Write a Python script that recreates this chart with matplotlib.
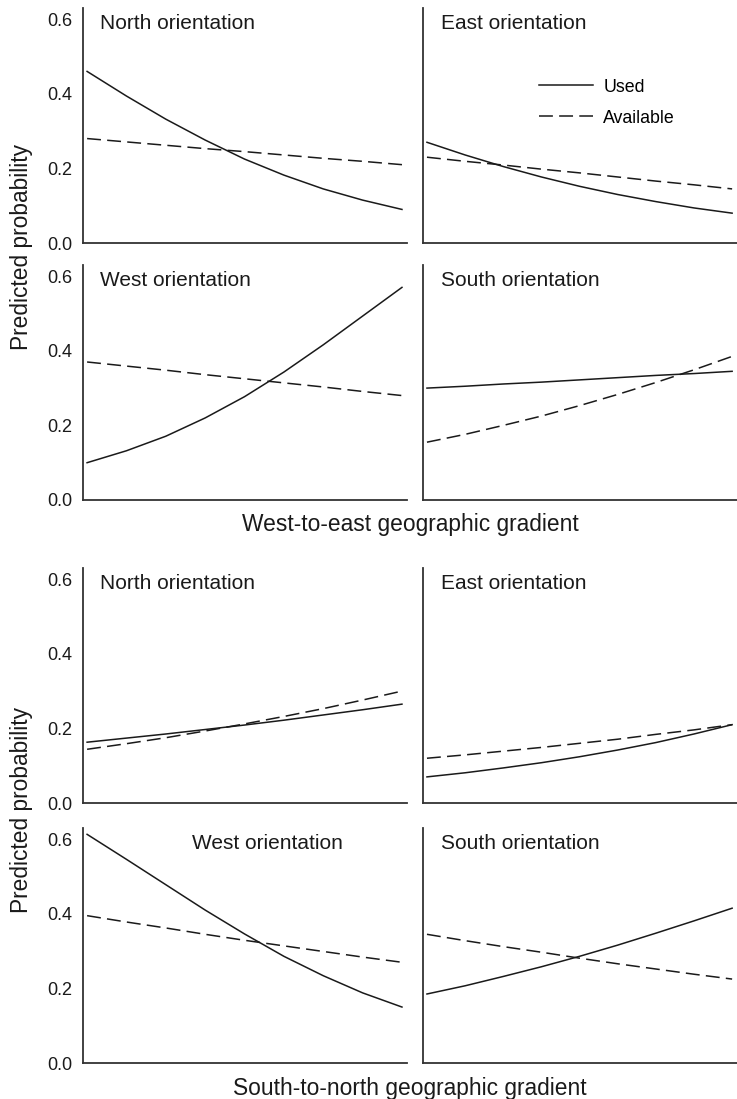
import numpy as np
import matplotlib.pyplot as plt

plt.rcParams['font.family'] = ['Liberation Sans', 'DejaVu Sans']
plt.rcParams['lines.scale_dashes'] = False

# position along each geographic gradient (scaled 0-1)
grad = [0, 0.125, 0.25, 0.375, 0.5, 0.625, 0.75, 0.875, 1]

# west-to-east gradient
we_north_used = [0.460, 0.394, 0.332, 0.276, 0.225, 0.182, 0.145, 0.115, 0.090]
we_north_avail = [0.280, 0.271, 0.262, 0.253, 0.245, 0.236, 0.227, 0.219, 0.210]
we_east_used = [0.270, 0.236, 0.205, 0.177, 0.152, 0.130, 0.111, 0.094, 0.080]
we_east_avail = [0.230, 0.219, 0.209, 0.198, 0.188, 0.177, 0.166, 0.156, 0.145]
we_west_used = [0.100, 0.132, 0.171, 0.220, 0.277, 0.343, 0.416, 0.493, 0.570]
we_west_avail = [0.370, 0.359, 0.348, 0.336, 0.325, 0.314, 0.303, 0.291, 0.280]
we_south_used = [0.300, 0.305, 0.311, 0.316, 0.322, 0.328, 0.334, 0.339, 0.345]
we_south_avail = [0.155, 0.176, 0.200, 0.225, 0.253, 0.283, 0.315, 0.349, 0.385]

# south-to-north gradient
sn_north_used = [0.163, 0.174, 0.185, 0.197, 0.209, 0.222, 0.236, 0.250, 0.265]
sn_north_avail = [0.144, 0.159, 0.175, 0.193, 0.212, 0.232, 0.253, 0.276, 0.300]
sn_east_used = [0.070, 0.081, 0.094, 0.108, 0.124, 0.142, 0.162, 0.185, 0.210]
sn_east_avail = [0.120, 0.129, 0.139, 0.149, 0.160, 0.171, 0.184, 0.196, 0.210]
sn_west_used = [0.613, 0.546, 0.478, 0.410, 0.346, 0.286, 0.234, 0.188, 0.150]
sn_west_avail = [0.395, 0.378, 0.362, 0.345, 0.329, 0.314, 0.299, 0.284, 0.270]
sn_south_used = [0.185, 0.207, 0.232, 0.258, 0.286, 0.316, 0.348, 0.381, 0.415]
sn_south_avail = [0.345, 0.328, 0.312, 0.297, 0.281, 0.266, 0.252, 0.238, 0.225]

yticks = [0.0, 0.2, 0.4, 0.6]

W, H = 737, 1099
fig = plt.figure(figsize=(W / 100, H / 100), dpi=100)

# panel boxes in pixels: left, top, right, bottom
cols = [(83, 407), (423, 737)]
rows = [(8, 243), (265, 500), (568, 803), (828, 1063)]

panels = [
    (0, 0, 'North orientation', we_north_used, we_north_avail, 17),
    (0, 1, 'East orientation', we_east_used, we_east_avail, 18),
    (1, 0, 'West orientation', we_west_used, we_west_avail, 17),
    (1, 1, 'South orientation', we_south_used, we_south_avail, 18),
    (2, 0, 'North orientation', sn_north_used, sn_north_avail, 17),
    (2, 1, 'East orientation', sn_east_used, sn_east_avail, 18),
    (3, 0, 'West orientation', sn_west_used, sn_west_avail, 109),
    (3, 1, 'South orientation', sn_south_used, sn_south_avail, 18),
]

ink = '#1a1a1a'
for r, c, title, used, avail, tx in panels:
    x0, x1 = cols[c]
    t, b = rows[r]
    ax = fig.add_axes([x0 / W, 1 - b / H, (x1 - x0) / W, (b - t) / H])
    ax.plot(grad, used, color=ink, lw=1.1, label='Used')
    ax.plot(grad, avail, color=ink, lw=1.1, linestyle=(0, (10, 4.5)), label='Available')
    ax.set_xlim(-0.013, 1.016)
    ax.set_ylim(0, 0.63)
    ax.set_xticks([])
    if c == 0:
        ax.set_yticks(yticks)
        ax.set_yticklabels(['%.1f' % v for v in yticks])
    else:
        ax.set_yticks([])
    ax.tick_params(axis='y', length=0, pad=8, labelsize=13, labelcolor=ink)
    for s in ['top', 'right']:
        ax.spines[s].set_visible(False)
    for s in ['left', 'bottom']:
        ax.spines[s].set_linewidth(1.3)
        ax.spines[s].set_color('#333333')
    ax.annotate(title, xy=(0, 1), xycoords='axes fraction',
                xytext=(tx * 0.72, -4), textcoords='offset points',
                ha='left', va='top', fontsize=15, color=ink)
    if r == 0 and c == 1:
        ax.legend(loc='upper left', bbox_to_anchor=(0.37, 0.70), frameon=False,
                  fontsize=12.8, handlelength=3.0, handletextpad=0.6,
                  labelspacing=0.8, borderpad=0, borderaxespad=0)

fig.text(410 / W, 1 - 525 / H, 'West-to-east geographic gradient',
         ha='center', va='center', fontsize=16.4, color=ink)
fig.text(410 / W, 1 - 1088 / H, 'South-to-north geographic gradient',
         ha='center', va='center', fontsize=16.4, color=ink)
fig.text(22 / W, 1 - 247 / H, 'Predicted probability', rotation=90,
         ha='center', va='center', fontsize=16.4, color=ink)
fig.text(22 / W, 1 - 810 / H, 'Predicted probability', rotation=90,
         ha='center', va='center', fontsize=16.4, color=ink)

fig.savefig('out.png', dpi=100)
